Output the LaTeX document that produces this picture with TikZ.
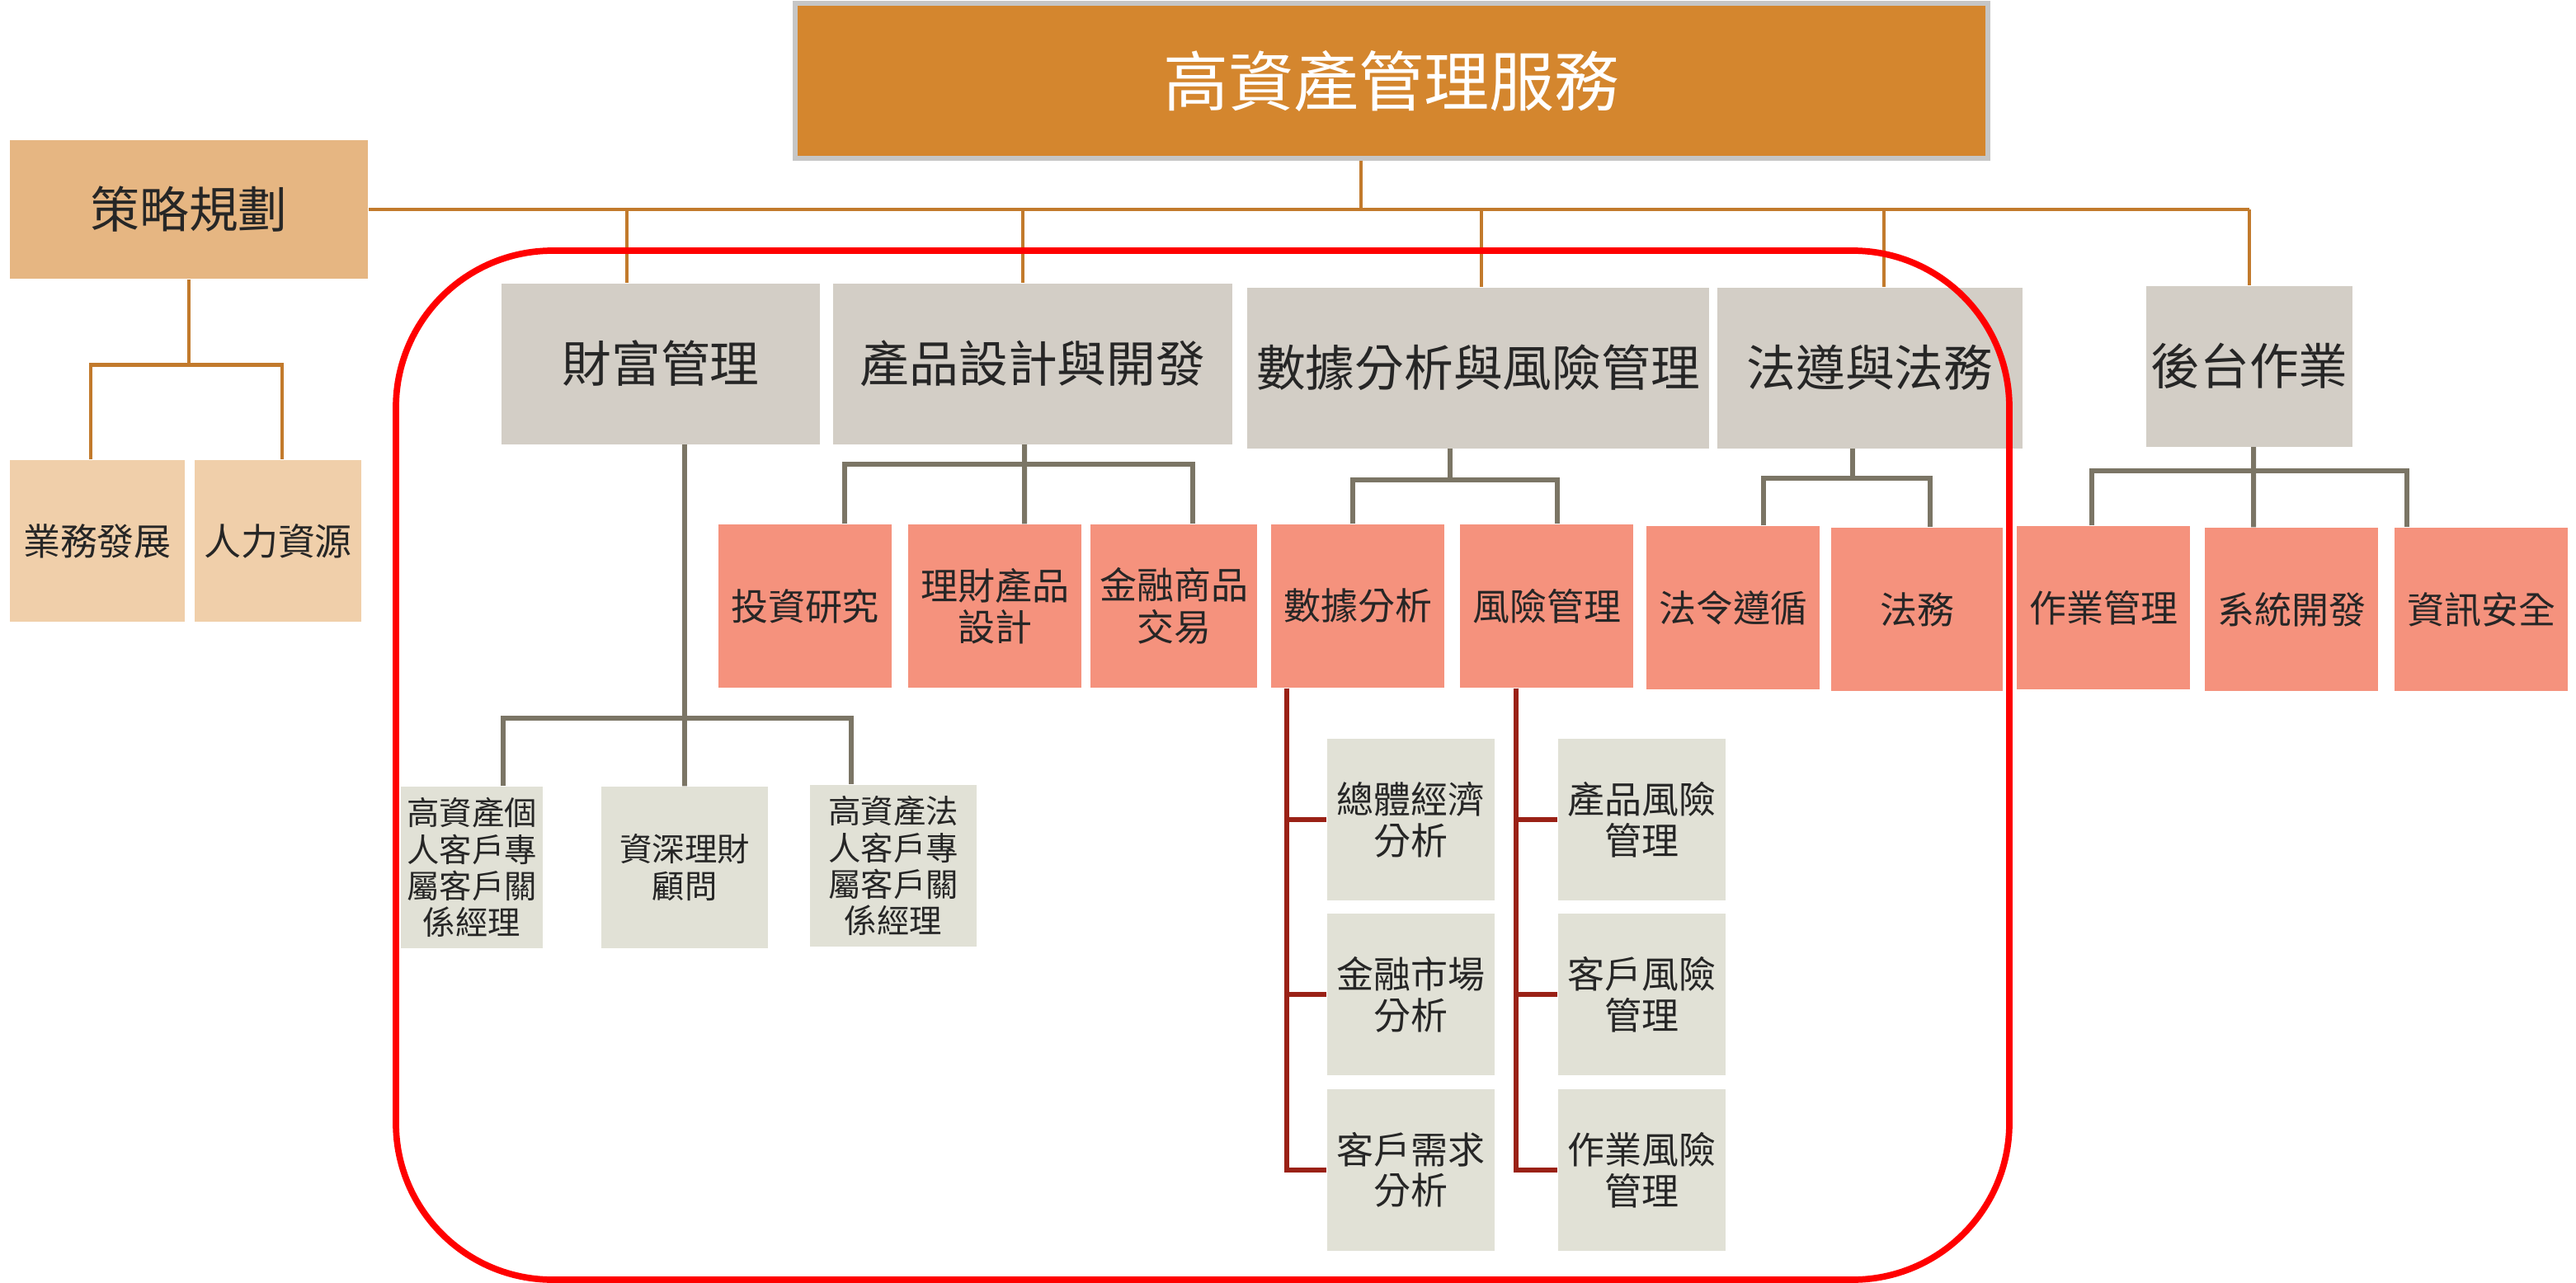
\documentclass[tikz,border=0pt]{standalone}
\usepackage{fontspec}
\newfontfamily\cjk{Noto Sans CJK TC}
\usetikzlibrary{calc,positioning}
\definecolor{topfill}{HTML}{D4862E}
\definecolor{topedge}{HTML}{C6C6C6}
\definecolor{stratfill}{HTML}{E6B682}
\definecolor{sidefill}{HTML}{F0CFAA}
\definecolor{deptfill}{HTML}{D3CEC6}
\definecolor{unitfill}{HTML}{F5927D}
\definecolor{teamfill}{HTML}{E1E1D6}
\definecolor{tancol}{HTML}{C27A2C}
\definecolor{graycol}{HTML}{7B7565}
\definecolor{redcol}{HTML}{9A2116}

\begin{document}
\begin{tikzpicture}[
	box/.style={rectangle, inner sep=0pt, align=center, text=black!85},
	headbox/.style={box, fill=topfill, draw=topedge, line width=1.5pt, text=white, minimum width=14.46cm, minimum height=1.88cm, font=\cjk\fontsize{22.5}{27}\selectfont},
	stratbox/.style={box, fill=stratfill, minimum width=4.34cm, minimum height=1.68cm, font=\cjk\fontsize{17}{20}\selectfont},
	deptbox/.style={box, fill=deptfill, minimum height=1.95cm, font=\cjk\fontsize{17}{20}\selectfont},
	sidebox/.style={box, fill=sidefill, minimum height=1.96cm, font=\cjk\fontsize{12.8}{14.4}\selectfont},
	unitbox/.style={box, fill=unitfill, minimum width=2.1cm, minimum height=1.98cm, font=\cjk\fontsize{12.8}{14.4}\selectfont},
	teambox/.style={box, fill=teamfill, minimum width=2.03cm, minimum height=1.96cm, font=\cjk\fontsize{12.8}{14.2}\selectfont},
	smallbox/.style={teambox, minimum width=2.02cm, font=\cjk\fontsize{11.2}{12.6}\selectfont},
	tanlink/.style={draw=tancol, line width=1.4pt},
	graylink/.style={draw=graycol, line width=1.7pt},
	redlink/.style={draw=redcol, line width=1.7pt},
	frame/.style={draw=red, line width=2.2pt, rounded corners=1.9cm}
]
	\useasboundingbox (0,0) rectangle (31.23,-15.56);

	\node[headbox] (top) at (16.87,-0.98) {高資產管理服務};
	\node[stratbox] (strategy) at (2.29,-2.54) {策略規劃};
	\node[sidebox, minimum width=2.12cm] (busdev) at (1.18,-6.56) {業務發展};
	\node[sidebox, minimum width=2.02cm] (hr) at (3.37,-6.56) {人力資源};

	\node[deptbox, minimum width=3.86cm] (wealth) at (8.01,-4.41) {財富管理};
	\node[deptbox, minimum width=4.84cm] (product) at (12.52,-4.41) {產品設計與開發};
	\node[deptbox, minimum width=5.60cm] (data) at (17.92,-4.46) {數據分析與風險管理};
	\node[deptbox, minimum width=3.70cm] (legal) at (22.67,-4.46) {法遵與法務};
	\node[deptbox, minimum width=2.50cm] (back) at (27.27,-4.44) {後台作業};

	\node[unitbox] (invest) at (9.76,-7.35) {投資研究};
	\node[unitbox] (pdesign) at (12.06,-7.35) {理財產品\\設計};
	\node[unitbox, minimum width=2.02cm] (trade) at (14.23,-7.35) {金融商品\\交易};
	\node[unitbox] (dana) at (16.46,-7.35) {數據分析};
	\node[unitbox] (risk) at (18.75,-7.35) {風險管理};
	\node[unitbox] (comply) at (21.01,-7.37) {法令遵循};
	\node[unitbox, minimum width=2.08cm] (law) at (23.24,-7.39) {法務};
	\node[unitbox] (ops) at (25.50,-7.37) {作業管理};
	\node[unitbox] (sys) at (27.78,-7.39) {系統開發};
	\node[unitbox] (sec) at (30.08,-7.39) {資訊安全};

	\node[smallbox, minimum width=1.72cm] (rmp) at (5.72,-10.52) {高資產個\\人客戶專\\屬客戶關\\係經理};
	\node[smallbox] (senior) at (8.30,-10.52) {資深理財\\顧問};
	\node[smallbox] (rmc) at (10.83,-10.50) {高資產法\\人客戶專\\屬客戶關\\係經理};

	\node[teambox] (macro) at (17.10,-9.94) {總體經濟\\分析};
	\node[teambox, below=0.15cm of macro] (market) {金融市場\\分析};
	\node[teambox, below=0.15cm of market] (cneed) {客戶需求\\分析};
	\node[teambox, right=0.76cm of macro] (prisk) {產品風險\\管理};
	\node[teambox, right=0.76cm of market] (crisk) {客戶風險\\管理};
	\node[teambox, right=0.76cm of cneed] (orisk) {作業風險\\管理};

	\draw[tanlink] (strategy.east) -- (strategy.east -| back.north);
	\draw[tanlink] ($(top.south)+(-0.37,0)$) coordinate (t0) -- (t0 |- strategy.east);
	\foreach \n/\dx in {wealth/-0.41, product/-0.12, data/0.04, legal/0.17, back/0.0}
		\draw[tanlink] ($(\n.north)+(\dx,0)$) coordinate (d) -- (d |- strategy.east);
	\draw[tanlink] (strategy.south) -- ++(0,-1.04) coordinate (sbar);
	\draw[tanlink] ($(busdev.north)+(-0.08,0)$) |- (sbar) -| ($(hr.north)+(0.05,0)$);

	\draw[graylink] ($(wealth.south)+(0.29,0)$) -- (senior.north);
	\coordinate (wbar) at ($(senior.north)+(0,0.82)$);
	\draw[graylink] ($(rmp.north)+(0.38,0)$) |- (wbar) -| ($(rmc.north)+(-0.51,0)$);

	\draw[graylink] ($(product.south)+(-0.10,0)$) -- ($(pdesign.north)+(0.36,0)$);
	\coordinate (pbar) at ($(pdesign.north)+(0.36,0.72)$);
	\draw[graylink] ($(invest.north)+(0.48,0)$) |- (pbar) -| ($(trade.north)+(0.23,0)$);

	\draw[graylink] ($(data.south)+(-0.34,0)$) -- ++(0,-0.38) coordinate (dbar);
	\draw[graylink] ($(dana.north)+(-0.06,0)$) |- (dbar) -| ($(risk.north)+(0.13,0)$);

	\draw[graylink] ($(legal.south)+(-0.21,0)$) -- ++(0,-0.36) coordinate (lbar);
	\draw[graylink] ($(comply.north)+(0.37,0)$) |- (lbar) -| ($(law.north)+(0.16,0)$);

	\draw[graylink] ($(back.south)+(0.05,0)$) -- ($(sys.north)+(-0.46,0)$);
	\coordinate (bbar) at ($(sys.north)+(-0.46,0.68)$);
	\draw[graylink] ($(ops.north)+(-0.14,0)$) |- (bbar) -| ($(sec.north)+(-0.90,0)$);

	\foreach \n in {macro, market, cneed}
		\draw[redlink] ($(dana.south)+(-0.86,0)$) |- (\n.west);
	\foreach \n in {prisk, crisk, orisk}
		\draw[redlink] ($(risk.south)+(-0.37,0)$) |- (\n.west);

	\draw[frame] (4.80,-3.04) rectangle (24.36,-15.52);
\end{tikzpicture}
\end{document}
